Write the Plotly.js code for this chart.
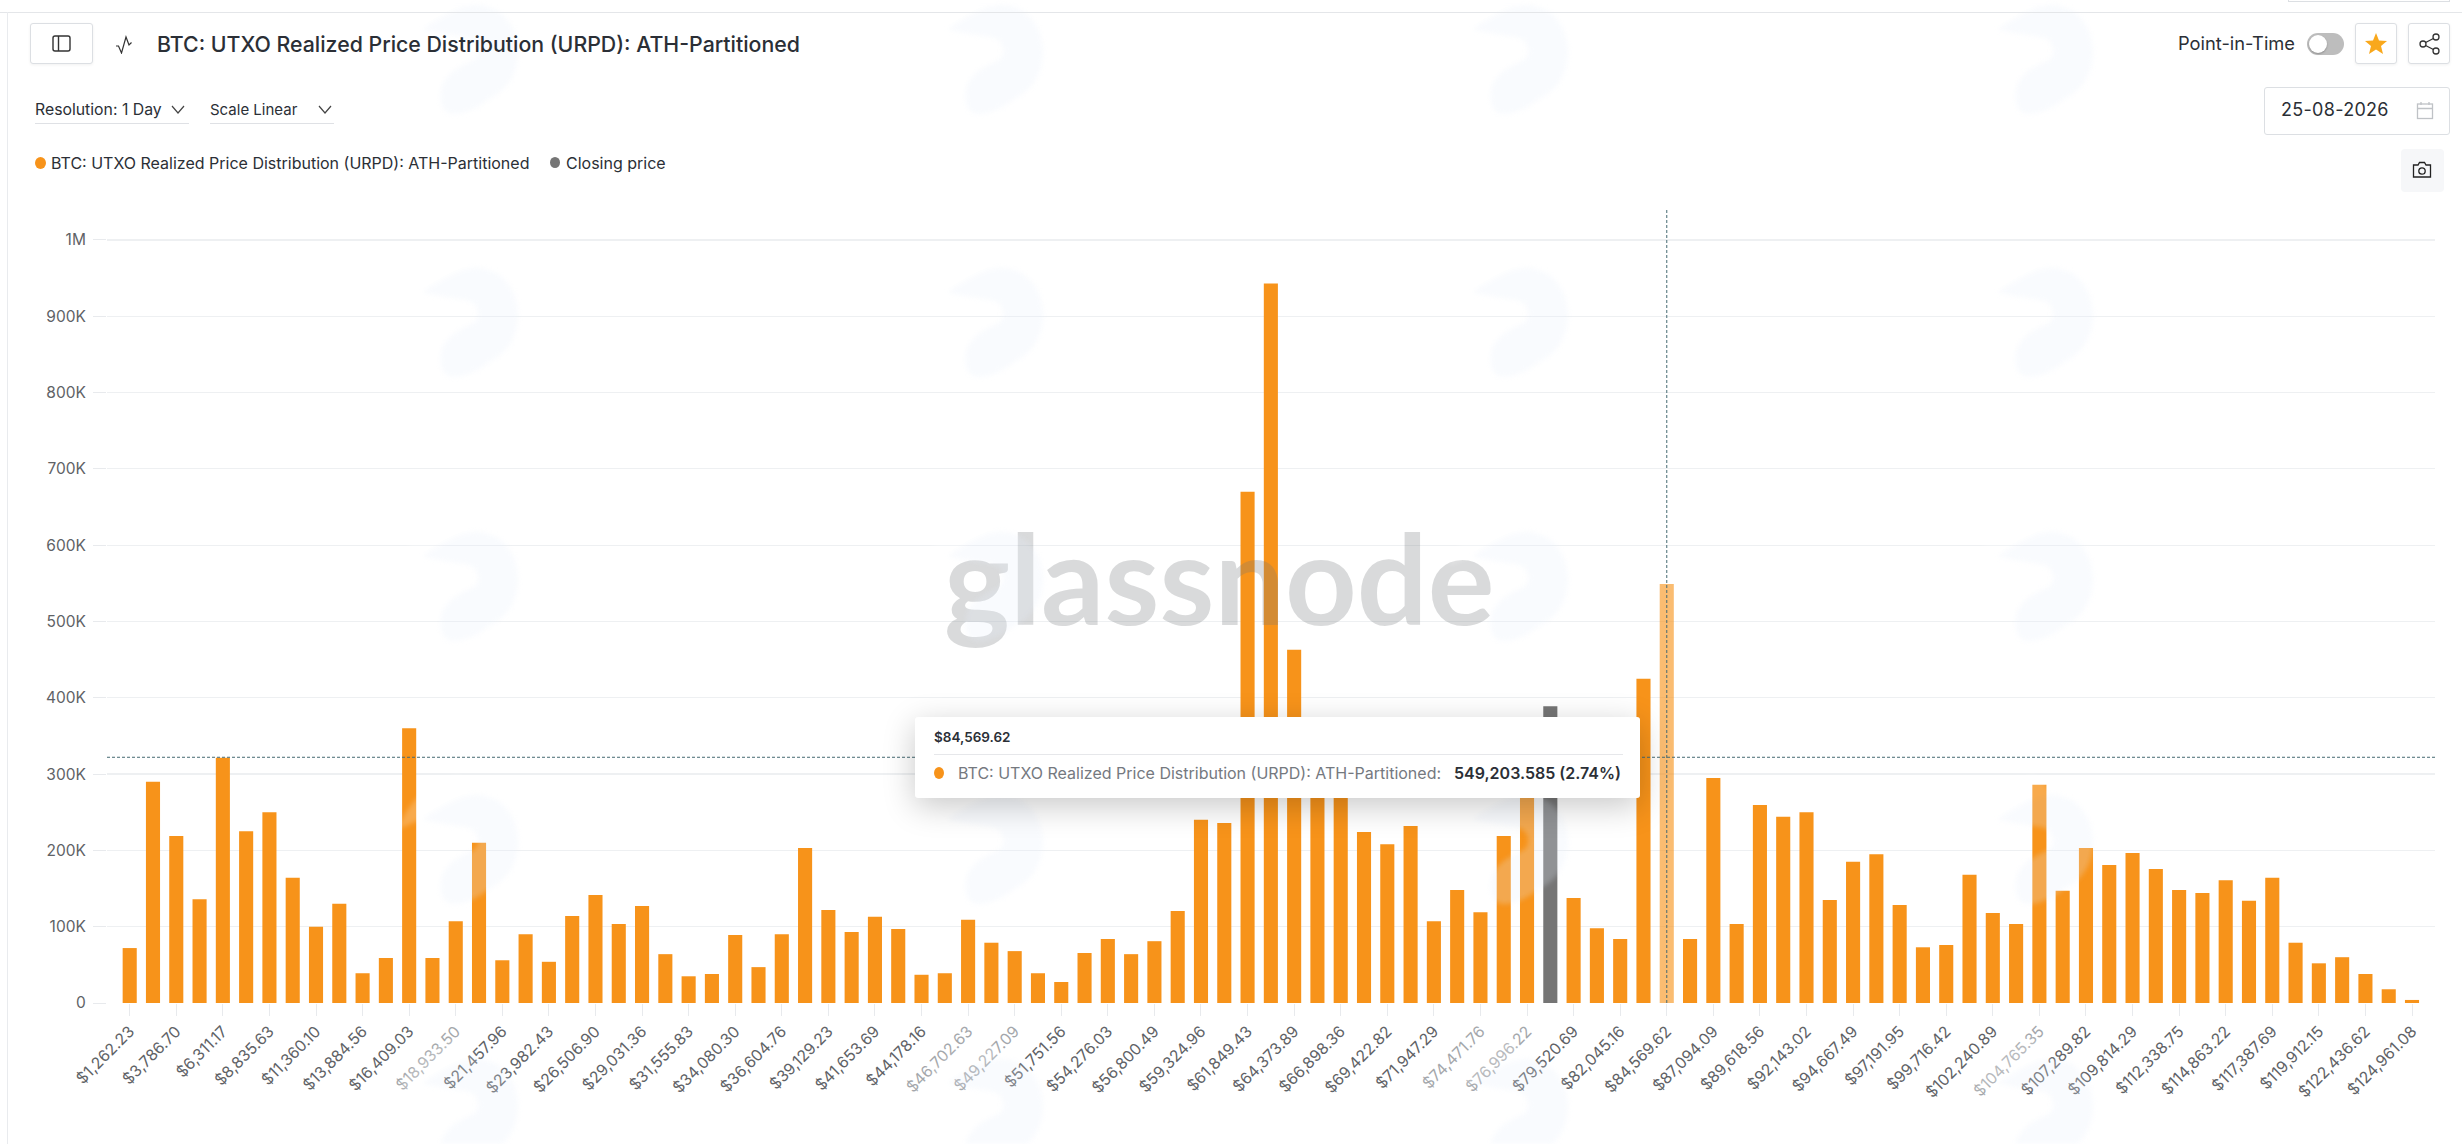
<!DOCTYPE html>
<html><head><meta charset="utf-8">
<script src="https://cdn.plot.ly/plotly-3.0.1.min.js"></script>
<style>
html,body{margin:0;padding:0;background:#fff;width:2462px;height:1144px;overflow:hidden;font-family:Inter,"Noto Sans",sans-serif;color:#2b2f36}
#chart{position:absolute;left:0;top:0;width:2462px;height:1144px;z-index:1}
.u{position:absolute;white-space:nowrap;z-index:4}
.btn{position:absolute;box-sizing:border-box;border:1px solid #dcdfe3;border-radius:3px;background:#fff;box-shadow:0 1px 3px rgba(0,0,0,.06);z-index:4}
.btn svg,.u svg{display:block}
.dot{position:absolute;border-radius:50%;z-index:4}
#logos{position:absolute;left:0;top:0;z-index:3;pointer-events:none;filter:blur(2.5px)}
#tip{position:absolute;left:915px;top:717px;width:725px;height:81px;background:#fff;border-radius:3px;box-shadow:0 8px 32px rgba(0,0,0,.22);z-index:5}
#tip div{position:absolute;white-space:nowrap}
</style></head><body>
<div class="u" style="left:0;top:12px;width:2462px;height:1px;background:#e4e6e9"></div>
<div class="u" style="left:7px;top:12px;width:1px;height:1132px;background:#e9ebee"></div>
<div class="u" style="left:2288px;top:0;width:162px;height:2px;border:1px solid #dcdfe3;border-top:0;box-sizing:border-box"></div>

<div class="btn" style="left:30px;top:23px;width:63px;height:41px">
<svg width="61" height="39"><rect x="22" y="12" width="17" height="15" rx="2" fill="none" stroke="#333" stroke-width="1.4"/><line x1="27.5" y1="12" x2="27.5" y2="27" stroke="#333" stroke-width="1.4"/></svg></div>
<svg class="u" style="left:115px;top:34px" width="20" height="20"><path d="M1 12 L3.5 12 L6.5 19 L11 3 L14 11 L16.5 8.5" fill="none" stroke="#333" stroke-width="1.2"/></svg>
<div class="u" id="title" style="left:157px;top:32px;font-size:21.3px;font-weight:500;line-height:24px">BTC: UTXO Realized Price Distribution (URPD): ATH-Partitioned</div>

<div class="u" style="left:35px;top:101px;font-size:15.8px;line-height:18px">Resolution: 1 Day</div>
<svg class="u" style="left:170px;top:105px" width="16" height="10"><path d="M2 1 L8 8 L14 1" fill="none" stroke="#444" stroke-width="1.2"/></svg>
<div class="u" style="left:35px;top:123px;width:154px;height:1px;background:#dfe1e5"></div>
<div class="u" style="left:210px;top:101px;font-size:15px;line-height:18px">Scale Linear</div>
<svg class="u" style="left:317px;top:105px" width="16" height="10"><path d="M2 1 L8 8 L14 1" fill="none" stroke="#444" stroke-width="1.2"/></svg>
<div class="u" style="left:210px;top:123px;width:124px;height:1px;background:#dfe1e5"></div>

<div class="dot" style="left:35px;top:157px;width:11px;height:12px;background:#f7931a"></div>
<div class="u" id="leg1" style="left:51px;top:154px;font-size:16px;line-height:18px">BTC: UTXO Realized Price Distribution (URPD): ATH-Partitioned</div>
<div class="dot" style="left:550px;top:157px;width:10px;height:11px;background:#757575"></div>
<div class="u" style="left:566px;top:154px;font-size:16px;line-height:18px">Closing price</div>

<div class="u" style="left:2178px;top:33px;font-size:18.3px;line-height:21px">Point-in-Time</div>
<div class="u" style="left:2307px;top:33px;width:37px;height:22px;border-radius:11px;background:#bdbdbd"></div>
<div class="u" style="left:2309px;top:35px;width:18px;height:18px;border-radius:50%;background:#fff;box-shadow:0 1px 2px rgba(0,0,0,.25)"></div>
<div class="btn" style="left:2355px;top:23px;width:42px;height:41px"><svg width="40" height="39"><path d="M20 9 L23 16.5 L31 17 L25 22 L27 30 L20 25.5 L13 30 L15 22 L9 17 L17 16.5 Z" fill="#f9a81c"/></svg></div>
<div class="btn" style="left:2408px;top:23px;width:42px;height:41px"><svg width="40" height="39" fill="none" stroke="#333" stroke-width="1.3"><circle cx="27" cy="13" r="3"/><circle cx="14" cy="20" r="3"/><circle cx="27" cy="27" r="3"/><path d="M16.6 18.5 L24.4 14.5 M16.6 21.5 L24.4 25.5"/></svg></div>
<div class="btn" style="left:2264px;top:87px;width:186px;height:48px;box-shadow:none"></div>
<div class="u" style="left:2281px;top:99px;font-size:18px;line-height:22px;letter-spacing:.3px">25-08-2026</div>
<svg class="u" style="left:2416px;top:101px" width="18" height="19" fill="none" stroke="#bfc2c6" stroke-width="1.3"><rect x="1.5" y="3" width="15" height="14.5"/><path d="M1.5 7.5 H16.5 M5 1 V4 M13 1 V4"/></svg>
<div class="u" style="left:2401px;top:149px;width:43px;height:43px;background:#f6f7f9;border-radius:4px"></div>
<svg class="u" style="left:2412px;top:161px" width="20" height="18" fill="none" stroke="#222" stroke-width="1.3"><path d="M1.5 4 H6 L7.5 1.5 H12.5 L14 4 H18.5 V16 H1.5 Z"/><circle cx="10" cy="10" r="3.2"/></svg>

<div id="chart"></div>
<svg id="logos" width="2462" height="1144"></svg>

<div id="tip">
<div style="left:19px;top:12px;font-size:13.5px;font-weight:600;line-height:17px">$84,569.62</div>
<div style="left:19px;top:37px;width:689px;height:1px;background:#e6e7ea"></div>
<div style="left:19px;top:50px;width:10px;height:12px;border-radius:50%;background:#f7931a"></div>
<div style="left:43px;top:47px;font-size:16px;line-height:18px;color:#75797f">BTC: UTXO Realized Price Distribution (URPD): ATH-Partitioned:</div>
<div style="left:539px;top:47px;font-size:16px;line-height:18px;font-weight:600">549,203.585 (2.74%)</div>
</div>

<script>
const binPrices = [1262.23,2524.47,3786.70,5048.93,6311.17,7573.40,8835.63,10097.86,11360.10,12622.33,13884.56,15146.80,16409.03,17671.26,18933.50,20195.73,21457.96,22720.20,23982.43,25244.66,26506.90,27769.13,29031.36,30293.59,31555.83,32818.06,34080.30,35342.53,36604.76,37866.99,39129.23,40391.46,41653.69,42915.93,44178.16,45440.39,46702.63,47964.86,49227.09,50489.32,51751.56,53013.79,54276.03,55538.26,56800.49,58062.72,59324.96,60587.19,61849.43,63111.66,64373.89,65636.12,66898.36,68160.59,69422.82,70685.05,71947.29,73209.52,74471.76,75733.99,76996.22,78258.45,79520.69,80782.92,82045.16,83307.39,84569.62,85831.85,87094.09,88356.32,89618.56,90880.79,92143.02,93405.25,94667.49,95929.72,97191.95,98454.18,99716.42,100978.65,102240.89,103503.12,104765.35,106027.58,107289.82,108552.05,109814.29,111076.52,112338.75,113600.98,114863.22,116125.45,117387.69,118649.92,119912.15,121174.38,122436.62,123698.85,124961.08];
const urpdValues = [72000,290000,219000,136000,321500,225000,250000,164000,100000,130000,39000,59000,360000,59000,107000,210000,56000,90000,54000,114000,141500,103500,127000,64000,35000,38000,89000,47000,90000,203000,122000,93000,113000,97000,37000,39000,109000,79000,68000,39000,27500,65500,84000,64000,81000,120500,240000,236000,670000,943000,463000,340000,290000,224000,208000,232000,107000,148000,119000,219000,290000,null,137600,98000,84000,425000,549204,84000,295000,103500,259500,244000,250000,135000,185000,195000,128500,73000,76000,168000,118000,103500,286000,147000,203000,181000,196600,175600,148000,144000,161000,134000,164000,79000,52000,60000,38000,18000,4000];
const closingPrices = [78258.45];
const closingValues = [389000];
const tickPrices = [1262.23,3786.70,6311.17,8835.63,11360.10,13884.56,16409.03,18933.50,21457.96,23982.43,26506.90,29031.36,31555.83,34080.30,36604.76,39129.23,41653.69,44178.16,46702.63,49227.09,51751.56,54276.03,56800.49,59324.96,61849.43,64373.89,66898.36,69422.82,71947.29,74471.76,76996.22,79520.69,82045.16,84569.62,87094.09,89618.56,92143.02,94667.49,97191.95,99716.42,102240.89,104765.35,107289.82,109814.29,112338.75,114863.22,117387.69,119912.15,122436.62,124961.08];
const fadedTicks = [18933.50,46702.63,49227.09,74471.76,76996.22,104765.35];
const yTickVals = [0,100000,200000,300000,400000,500000,600000,700000,800000,900000,1000000];
const yTickText = ['0','100K','200K','300K','400K','500K','600K','700K','800K','900K','1M'];
const hoverPrice = 84569.62;
const hoverLevel = 322000;

const usd = p => '$' + p.toLocaleString('en-US',{minimumFractionDigits:2,maximumFractionDigits:2});
const tickText = tickPrices.map(p => fadedTicks.includes(p) ? '<span style="color:#a4a7ab">'+usd(p)+'</span>' : usd(p));
const BIN = 764;
const traces = [
 {type:'bar',name:'BTC: UTXO Realized Price Distribution (URPD): ATH-Partitioned',x:binPrices,y:urpdValues,width:BIN,
  marker:{color:'#f7931a',opacity:binPrices.map(p=>p===hoverPrice?0.62:1),line:{width:0}},hoverinfo:'skip'},
 {type:'bar',name:'Closing price',x:closingPrices,y:closingValues,width:BIN,marker:{color:'#757575',line:{width:0}},hoverinfo:'skip'}
];
const guide = {color:'#456a72',width:1,dash:'3px,2px'};
const layout = {
 width:2462,height:1144,showlegend:false,barmode:'overlay',hovermode:false,
 paper_bgcolor:'rgba(0,0,0,0)',plot_bgcolor:'rgba(0,0,0,0)',
 margin:{l:107,r:27,t:209,b:141,pad:0},
 font:{family:'Inter, sans-serif',color:'#606266'},
 xaxis:{type:'linear',range:[32,126207],tickmode:'array',tickvals:tickPrices,ticktext:tickText,tickangle:-45,
  tickfont:{size:15.8,color:'#606266'},ticks:'outside',ticklen:12,tickcolor:'#e8eaed',tickwidth:1,showgrid:false,
  zeroline:false,showline:false,automargin:false},
 yaxis:{range:[0,1040500],tickmode:'array',tickvals:yTickVals,ticktext:yTickText,tickfont:{size:15.5,color:'#606266'},
  ticks:'outside',ticklen:13,tickcolor:'#e8eaed',tickwidth:1,gridcolor:'#eef0f2',gridwidth:1.2,zeroline:false,showline:false,
  ticklabelstandoff:4,automargin:false},
 shapes:[
  {type:'line',xref:'x',yref:'paper',x0:hoverPrice,x1:hoverPrice,y0:0,y1:1,line:guide,layer:'above'},
  {type:'line',xref:'paper',yref:'y',x0:0,x1:1,y0:hoverLevel,y1:hoverLevel,line:guide,layer:'above'}
 ],
 annotations:[{xref:'paper',yref:'paper',x:(1219-107)/2328,y:(1003-577)/794,text:'<b>glassnode</b>',showarrow:false,xanchor:'center',yanchor:'middle',
  font:{family:'Lato, sans-serif',size:125,color:'rgba(115,118,122,0.27)'}}]
};
Plotly.newPlot('chart',traces,layout,{displayModeBar:false,staticPlot:true});

// faint repeating brand mark: a pale body plus a wisp that only shows where it crosses a bar
const NS='http://www.w3.org/2000/svg', logos=document.getElementById('logos');
const markPath='M38,52 C55,42 75,28 92,28 C118,28 134,50 134,75 C134,100 120,115 105,122 C95,130 82,137 70,137 C58,137 54,125 58,108 C64,95 78,88 90,83 C96,78 96,68 88,62 C78,58 58,58 38,52 Z';
const wispPath='M15,62 C20,40 40,20 70,8 C80,5 90,20 92,28 C75,28 55,42 38,52 Z';
[470,995,1520,2045].forEach(cx=>[60,323,587,850,1114].forEach(cy=>{
  [[markPath,'rgba(232,238,250,0.24)'],[wispPath,'rgba(255,255,255,0.22)']].forEach(([d,fill])=>{
    const p=document.createElementNS(NS,'path');
    p.setAttribute('d',d);p.setAttribute('transform','translate('+(cx-86)+','+(cy-83)+')');
    p.setAttribute('fill',fill);logos.appendChild(p);
  });
}));
</script>
</body></html>
